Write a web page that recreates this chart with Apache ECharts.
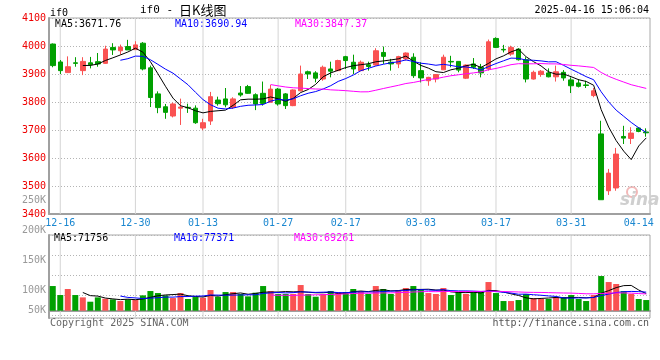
<!DOCTYPE html>
<html><head><meta charset="utf-8">
<script src="https://cdn.jsdelivr.net/npm/echarts@6/dist/echarts.min.js"></script>
<style>html,body{margin:0;padding:0;background:#fff}#c{width:660px;height:360px}</style>
</head><body><div id="c"></div>
<script>
// ---- data ----
const dates = ['12-13','12-16','12-17','12-18','12-19','12-20','12-23','12-24','12-25','12-26','12-27','12-30','12-31',
 '01-02','01-03','01-06','01-07','01-08','01-09','01-10','01-13','01-14','01-15','01-16','01-17','01-20','01-21','01-22','01-23','01-24','01-27',
 '02-05','02-06','02-07','02-10','02-11','02-12','02-13','02-14','02-17','02-18','02-19','02-20','02-21','02-24','02-25','02-26','02-27','02-28',
 '03-03','03-04','03-05','03-06','03-07','03-10','03-11','03-12','03-13','03-14','03-17','03-18','03-19','03-20','03-21','03-24','03-25','03-26','03-27','03-28','03-31',
 '04-01','04-02','04-03','04-07','04-08','04-09','04-10','04-11','04-14','04-15'];
const opens  = [4007,3943,3905,3940,3912,3940,3944,3938,3995,3983,3998,3987,4010,3922,3829,3783,3750,3778,3781,3778,
 3707,3732,3807,3811,3781,3832,3855,3826,3831,3799,3846,3829,3787,3840,3908,3904,3882,3918,3912,3962,
 3942,3912,3933,3932,3977,3942,3936,3954,3960,3912,3876,3882,3915,3945,3945,3885,3936,3924,3918,4027,
 3988,3971,3989,3951,3882,3898,3904,3890,3906,3879,3868,3861,3823,3686,3483,3493,3677,3670,3707,3693];
const closes = [3930,3912,3926,3938,3945,3933,3936,3989,3986,3996,3986,4004,3918,3816,3780,3763,3793,3782,3779,3726,
 3726,3819,3794,3790,3811,3825,3831,3793,3795,3846,3793,3787,3843,3900,3900,3885,3924,3910,3948,3948,
 3918,3942,3927,3983,3963,3936,3962,3975,3894,3886,3888,3898,3960,3943,3914,3932,3924,3904,4015,3995,
 3986,3995,3951,3882,3906,3910,3890,3908,3886,3858,3856,3859,3840,3451,3546,3614,3671,3689,3695,3690];
const lows   = [3924,3900,3904,3926,3896,3920,3926,3936,3968,3969,3986,3986,3913,3782,3760,3740,3745,3718,3761,3722,
 3699,3718,3787,3781,3775,3819,3829,3771,3787,3799,3787,3775,3785,3838,3882,3870,3876,3888,3910,3918,
 3900,3910,3912,3930,3936,3912,3921,3948,3886,3870,3858,3870,3914,3924,3906,3882,3918,3888,3912,3993,
 3977,3965,3948,3870,3880,3890,3888,3873,3876,3832,3852,3850,3817,3451,3468,3483,3650,3650,3692,3676];
const highs  = [4009,3950,3963,3960,3960,3961,3975,4001,4010,4005,4022,4017,4014,3930,3838,3793,3798,3812,3794,3788,
 3740,3836,3819,3850,3817,3857,3861,3831,3873,3861,3850,3832,3845,3930,3912,3910,3930,3944,3951,3965,
 3969,3948,3944,3992,3998,3954,3965,3977,3974,3942,3890,3900,3969,3965,3946,3934,3957,3936,4023,4031,
 4004,4001,3992,3960,3912,3914,3920,3930,3914,3888,3882,3876,3850,3733,3561,3636,3715,3710,3710,3706];
const volumes = [103100,65500,90600,65500,55700,37600,55700,50200,47400,40400,47400,44600,64100,82200,73800,64100,52900,73800,48800,57100,
 54300,86400,58500,78000,78000,69700,59900,75200,103100,82200,69700,69700,69700,107300,69700,58500,69700,82200,78000,78000,
 90600,82200,69700,103100,90600,69700,86400,94800,103100,90600,73800,69700,94800,65500,78000,69700,78000,78000,119800,73800,
 40400,40400,44600,69700,52900,48800,48800,57100,57100,65500,48800,40400,65500,144900,119800,111500,82200,69700,48800,44600];
const labelDates = ['12-16','12-30','01-13','01-27','02-17','03-03','03-17','03-31','04-14'];
const gridDates  = ['12-16','12-30','01-13','01-27','02-17','03-03','03-17','03-31'];
const volTickLabels = ['250K','200K','150K','100K','50K'];
const priceLegend = ['MA5:3671.76','MA10:3690.94','MA30:3847.37'];
const volLegend = ['MA5:71756','MA10:77371','MA30:69261'];
const maColors = ['#000000','#0000ff','#ff00ff'];
const maPeriods = [5,10,30];

// ---- helpers ----
function movingAvg(arr, n){
  return arr.map((v,i)=>{
    if(i<n-1) return null;
    let s=0; for(let k=i-n+1;k<=i;k++) s+=arr[k];
    return +(s/n).toFixed(2);
  });
}
const RED='#fa5252', GREEN='#00a000';
const MONO='"DejaVu Sans Mono", monospace';
const labelIdx = new Set(labelDates.map(d=>dates.indexOf(d)));
const gridIdx = new Set(gridDates.map(d=>dates.indexOf(d)));
const kdata = dates.map((d,i)=>[opens[i],closes[i],lows[i],highs[i]]);
const isUp = i => closes[i]>opens[i] || (closes[i]===opens[i] && i>0 && closes[i]>=closes[i-1]);
const volData = volumes.map((v,i)=>({value:v,itemStyle:{color:isUp(i)?RED:GREEN}}));
const dotted = {color:'#b4b4b4', type:[1,2], width:1};
const GUIDE = '#d4d4d4';

const chart = echarts.init(document.getElementById('c'), null, {renderer:'canvas'});
const xBase = {
  type:'category', data:dates, boundaryGap:true,
  axisTick:{show:false},
  axisLine:{show:true, lineStyle:{color:'#a0a0a0', width:2}},
  splitLine:{show:false}
};
// thin full-height guide bars at the labelled dates (1px wide), drawn through the category axes
const guideMain = dates.map((d,i)=>gridIdx.has(i) ? 4100 : null);
const guideVol  = dates.map((d,i)=>gridIdx.has(i) ? 83 : null);
const series = [
  {type:'bar', xAxisIndex:0, yAxisIndex:0, z:1, silent:true, barWidth:1, data:guideMain,
   itemStyle:{color:GUIDE}},
  {type:'bar', xAxisIndex:2, yAxisIndex:2, z:1, silent:true, barWidth:1, data:guideVol,
   itemStyle:{color:GUIDE}},
  {type:'candlestick', xAxisIndex:0, yAxisIndex:0, data:kdata, barWidth:5, z:3,
   itemStyle:{color:RED, color0:GREEN, borderColor:RED, borderColor0:GREEN, borderWidth:1}}
];
maPeriods.forEach((p,k)=>series.push({type:'line', xAxisIndex:0, yAxisIndex:0, data:movingAvg(closes,p), z:4,
  showSymbol:false, symbol:'none', lineStyle:{color:maColors[k], width:1}, silent:true}));
series.push({type:'bar', xAxisIndex:1, yAxisIndex:1, data:volData, barWidth:6, z:3});
maPeriods.forEach((p,k)=>series.push({type:'line', xAxisIndex:1, yAxisIndex:1, data:movingAvg(volumes,p), z:4,
  showSymbol:false, symbol:'none', lineStyle:{color:maColors[k], width:1}, silent:true}));

const txt = (x,y,text,fill,align,font)=>({type:'text', x:x, y:y, silent:true,
  style:{text:text, fill:fill, font:font||('10px '+MONO), textAlign:align||'left', textVerticalAlign:'middle'}});
const graphics = [
  txt(50,13,'if0','#000'),
  txt(140,10,'if0 -','#000','left','11px '+MONO),
  txt(179,10,'日K线图','#000','left','13px "Noto Sans CJK SC"'),
  txt(649,10,'2025-04-16 15:06:04','#000','right'),
  txt(55,24.5,priceLegend[0],maColors[0]),
  txt(175,24.5,priceLegend[1],maColors[1]),
  txt(295,24.5,priceLegend[2],maColors[2]),
  txt(54,238.5,volLegend[0],maColors[0]),
  txt(174,238.5,volLegend[1],maColors[1]),
  txt(294,238.5,volLegend[2],maColors[2]),
  txt(50,323.5,'Copyright 2025 SINA.COM','#666'),
  txt(649,323.5,'http://finance.sina.com.cn','#555','right'),
  {type:'circle', shape:{cx:632, cy:192, r:5}, silent:true, style:{fill:'none', stroke:'#f2b8b8', lineWidth:2}},
  txt(620,201,'sina','#cfcfcf','left','italic bold 17px "DejaVu Sans"')
];
const volLabelY = [200.7,230.7,260.7,290.7,310];
volTickLabels.forEach((t,i)=>graphics.push(txt(46,volLabelY[i],t,'#999','right')));

chart.setOption({
  animation:false,
  backgroundColor:'#fff',
  grid:[
    {left:49, top:18, width:601, height:196, show:true, backgroundColor:'transparent', borderColor:'#a8a8a8', borderWidth:1},
    {left:49, top:235, width:601, height:83, show:true, backgroundColor:'transparent', borderColor:'#a8a8a8', borderWidth:1}
  ],
  xAxis:[
    Object.assign({}, xBase, {gridIndex:0,
      axisLabel:{interval:(i)=>labelIdx.has(i), color:'#1a87d0', fontFamily:MONO, fontSize:10, margin:4}}),
    Object.assign({}, xBase, {gridIndex:1, axisLabel:{show:false}}),
    {type:'category', data:dates, boundaryGap:true, gridIndex:1, show:false}
  ],
  yAxis:[
    {type:'value', gridIndex:0, min:3400, max:4100, interval:100,
     axisLine:{show:true, lineStyle:{color:'#a0a0a0', width:2}}, axisTick:{show:false},
     axisLabel:{color:'#ee0000', fontFamily:MONO, fontSize:10, margin:3, padding:[0,0,4,0],
       formatter:(v)=>String(v)},
     splitLine:{show:true, lineStyle:dotted}},
    {type:'value', gridIndex:1, min:-30500, max:316400,
     axisLine:{show:true, lineStyle:{color:'#a0a0a0', width:2}}, axisTick:{show:false},
     axisLabel:{show:false}, splitLine:{show:false}},
    {type:'value', gridIndex:1, min:0, max:83, interval:20, inverse:true,
     axisLine:{show:false}, axisTick:{show:false}, axisLabel:{show:false},
     splitLine:{show:true, lineStyle:dotted}}
  ],
  series:series,
  graphic:graphics
});
</script></body></html>
